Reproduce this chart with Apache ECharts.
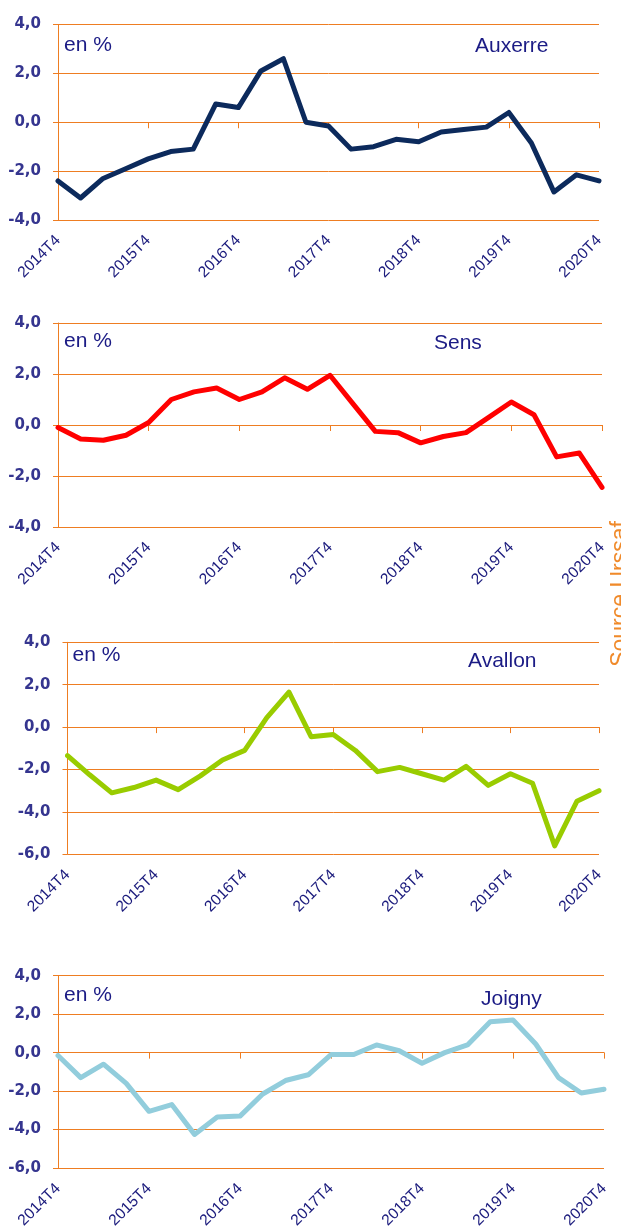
<!DOCTYPE html>
<html>
<head>
<meta charset="utf-8">
<script src="https://cdn.jsdelivr.net/npm/echarts@6/dist/echarts.min.js"></script>
<style>
    html, body { margin: 0; padding: 0; background: #fff; }
    #chart { width: 621px; height: 1231px; }
</style>
</head>
<body>
<div id="chart"></div>
<script>
var quarters = ['2014T4','2015T1','2015T2','2015T3','2015T4','2016T1','2016T2','2016T3','2016T4',
    '2017T1','2017T2','2017T3','2017T4','2018T1','2018T2','2018T3','2018T4',
    '2019T1','2019T2','2019T3','2019T4','2020T1','2020T2','2020T3','2020T4']
var auxerre = [-2.4,-3.1,-2.3,-1.9,-1.5,-1.2,-1.1,0.75,0.6,2.1,2.6,0.0,-0.15,-1.1,-1.0,-0.7,-0.8,-0.4,-0.3,-0.2,0.4,-0.85,-2.85,-2.15,-2.4]
var sens = [-0.1,-0.55,-0.6,-0.4,0.1,1.0,1.3,1.45,1.0,1.3,1.85,1.4,1.95,0.85,-0.25,-0.3,-0.7,-0.45,-0.3,0.3,0.9,0.4,-1.25,-1.1,-2.45]
var avallon = [-1.35,-2.25,-3.1,-2.85,-2.5,-2.95,-2.3,-1.55,-1.1,0.45,1.65,-0.45,-0.35,-1.1,-2.1,-1.9,-2.2,-2.5,-1.85,-2.75,-2.2,-2.65,-5.6,-3.5,-3.0]
var joigny = [-0.15,-1.3,-0.6,-1.6,-3.05,-2.7,-4.25,-3.35,-3.3,-2.15,-1.45,-1.15,-0.1,-0.1,0.4,0.1,-0.55,0.0,0.4,1.6,1.7,0.45,-1.3,-2.1,-1.9]
var yMin = [-4, -4, -6, -6]
var yMax = [4, 4, 4, 4]
var cities = ['Auxerre', 'Sens', 'Avallon', 'Joigny']

var orange = '#EE7D22'
var series_data = [auxerre, sens, avallon, joigny]
var colors = ['#0C2A5C', '#FF0000', '#99CC00', '#92CDDC']
// plot boxes
var boxes = [
    {left: 58, right: 22, top: 24.5, height: 195.5},
    {left: 58, right: 19, top: 323, height: 204},
    {left: 67.5, right: 22, top: 642.3, height: 212},
    {left: 58, right: 17, top: 975.7, height: 198.3}
]
var titlePos = [[64, 47, 475, 48], [64, 343, 434, 345], [72.5, 657, 468, 663], [64, 997, 481, 1001]]

var grids = [], xAxes = [], yAxes = [], series = [], graphics = []
for (var i = 0; i < 4; i++) {
    grids.push(boxes[i])
    // labels at the bottom
    xAxes.push({
        type: 'category', gridIndex: i, data: quarters, boundaryGap: false, position: 'bottom',
        axisLine: {show: false, onZero: false},
        axisTick: {show: false},
        axisLabel: {interval: 3, rotate: 45, margin: 18, color: '#1A1A7C', fontFamily: 'Arial', fontSize: 15.5}
    })
    // line and ticks on the zero level
    xAxes.push({
        type: 'category', gridIndex: i, data: quarters, boundaryGap: false, position: 'bottom',
        axisLine: {show: true, onZero: true, lineStyle: {color: orange, width: 1}},
        axisTick: {show: true, interval: 3, length: 6, lineStyle: {color: orange}},
        axisLabel: {show: false}
    })
    yAxes.push({
        type: 'value', gridIndex: i, min: yMin[i], max: yMax[i], interval: 2,
        axisLine: {show: true, lineStyle: {color: orange, width: 1}},
        axisTick: {show: true, length: 5, lineStyle: {color: orange}},
        splitLine: {show: true, lineStyle: {color: orange, width: 1}},
        axisLabel: {
            margin: 17, color: '#35358F', fontFamily: 'DejaVu Sans', fontWeight: 'bold', fontSize: 15,
            formatter: function (v) { return v.toFixed(1).replace('.', ',') }
        }
    })
    series.push({
        type: 'line', xAxisIndex: i * 2, yAxisIndex: i, data: series_data[i],
        symbol: 'none', smooth: false, z: 5,
        lineStyle: {color: colors[i], width: 5, join: 'round', cap: 'round'}
    })
    graphics.push({
        type: 'text', left: titlePos[i][0], top: titlePos[i][1] - 12,
        style: {text: 'en %', fill: '#1B1B85', font: '21px Arial'}
    })
    graphics.push({
        type: 'text', left: titlePos[i][2], top: titlePos[i][3] - 12,
        style: {text: cities[i], fill: '#1B1B85', font: '21px Arial'}
    })
}
graphics.push({
    type: 'text', x: 621, y: 594, rotation: Math.PI / 2,
    style: {text: 'Source Urssaf', fill: '#F08A2A', font: '23px Arial', align: 'center', verticalAlign: 'middle'}
})

var myChart = echarts.init(document.getElementById('chart'))
var option = {
    animation: false,
    backgroundColor: '#fff',
    grid: grids,
    xAxis: xAxes,
    yAxis: yAxes,
    series: series,
    graphic: graphics
}
myChart.setOption(option)
</script>
</body>
</html>
